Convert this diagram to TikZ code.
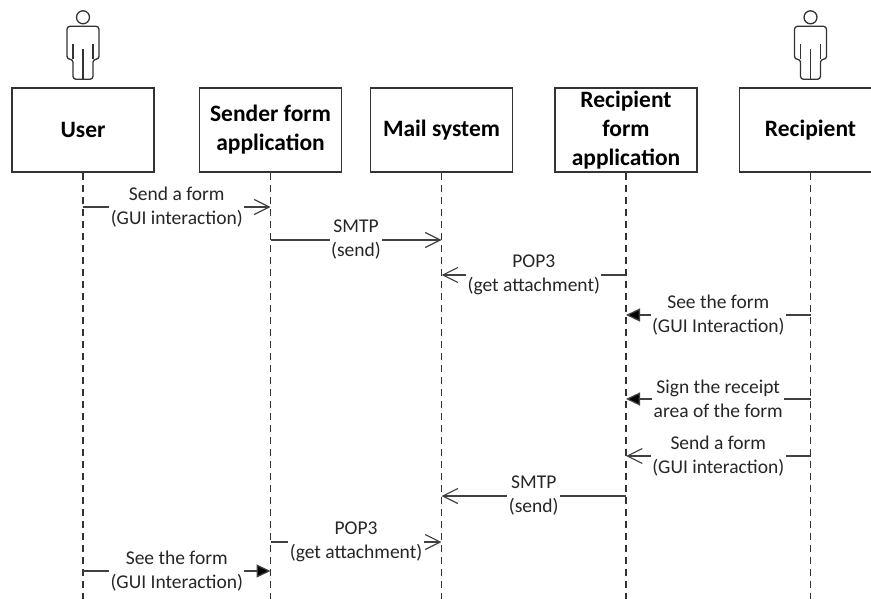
\documentclass[tikz,border=0pt]{standalone}
\usepackage{fontspec}
\setmainfont{Carlito}
\usetikzlibrary{arrows.meta}
\definecolor{linegray}{HTML}{404040}
\tikzset{
    obj/.style={draw=black!80,line width=1.4pt,minimum width=142pt,minimum height=84pt,inner sep=0pt,align=center,text=black,font=\fontsize{23.5}{29}\selectfont\bfseries},
    life/.style={draw=black!80,line width=1.3pt,dash pattern=on 7pt off 5pt},
    msg/.style={draw=linegray,line width=1.3pt},
    sync/.style={msg,-{Triangle[length=14pt,width=13pt,fill=black]}},
    async/.style={msg,-{Straight Barb[length=15pt,width=15pt,line width=1.2pt]}},
    lbl/.style={fill=white,inner sep=1.5pt,align=center,text=black!85,font=\fontsize{19.5}{24}\selectfont},
    actor/.pic={
        \draw[black!80,line width=1.3pt] (0,-70) circle (6.5);
        \draw[black!80,line width=1.3pt,rounded corners=3pt] (-10,-8) -- (-10,-28) -- (-16,-28) -- (-16,-61) -- (16,-61) -- (16,-28) -- (10,-28) -- (10,-8) -- cycle;
        \draw[black!80,line width=1.3pt] (-10,-43) -- (-10,-28) (10,-43) -- (10,-28) (0,-38) -- (0,-8);
    }
}
\begin{document}
\begin{tikzpicture}[x=1pt,y=-1pt]
    \useasboundingbox (0,0) rectangle (871,599);
    % objects
    \node[obj] (user) at (83,130) {User};
    \node[obj] (sender) at (270.5,130) {Sender form\\application};
    \node[obj] (mail) at (441.5,130) {Mail system};
    \node[obj] (recapp) at (626,130) {Recipient\\form\\application};
    \node[obj] (recip) at (810.5,130) {Recipient};
    \path (user.north) pic {actor} (recip.north) pic {actor};
    % lifelines
    \coordinate (bottom) at (0,599);
    \foreach \o in {user,sender,mail,recapp,recip}
        \draw[life] (\o.south) -- (\o |- bottom);
    % messages
    \foreach \n/\y in {1/207,2/240,3/275,4/315,5/399,6/456,7/496,8/542,9/571}
        \coordinate (m\n) at (0,\y);
    \draw[async] (user |- m1) -- node[lbl] {Send a form\\(GUI interaction)} (sender |- m1);
    \draw[async] (sender |- m2) -- node[lbl] {SMTP\\(send)} (mail |- m2);
    \draw[async] (recapp |- m3) -- node[lbl] {POP3\\(get attachment)} (mail |- m3);
    \draw[sync] (recip |- m4) -- node[lbl] {See the form\\(GUI Interaction)} (recapp |- m4);
    \draw[sync] (recip |- m5) -- node[lbl] {Sign the receipt\\area of the form} (recapp |- m5);
    \draw[async] (recip |- m6) -- node[lbl] {Send a form\\(GUI interaction)} (recapp |- m6);
    \draw[async] (recapp |- m7) -- node[lbl] {SMTP\\(send)} (mail |- m7);
    \draw[async] (sender |- m8) -- node[lbl] {POP3\\(get attachment)} (mail |- m8);
    \draw[sync] (user |- m9) -- node[lbl] {See the form\\(GUI Interaction)} (sender |- m9);
\end{tikzpicture}
\end{document}
